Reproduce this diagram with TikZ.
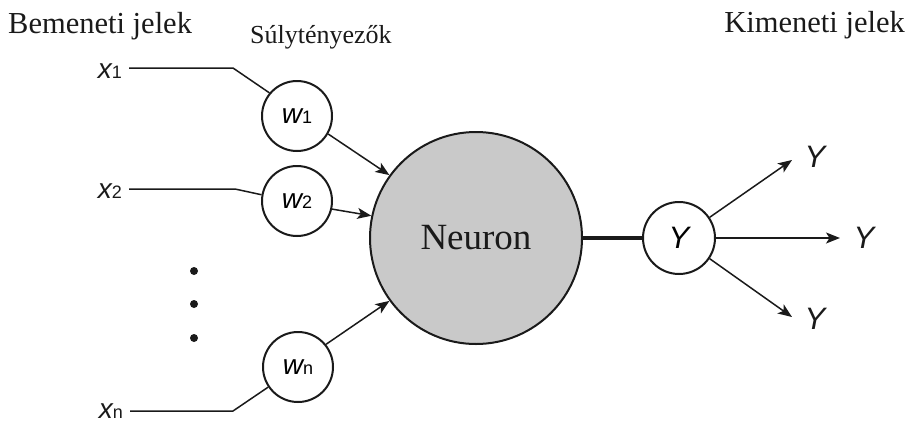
\documentclass[tikz,border=0pt]{standalone}
\usepackage{fontspec}
\setmainfont{Liberation Serif}
\newfontfamily\symfont{Liberation Sans}
\usetikzlibrary{arrows.meta}
\definecolor{ink}{HTML}{1A1A1A}
\definecolor{cellgray}{HTML}{C9C9C9}
% italic sans symbol with an upright subscript
\newcommand{\varsym}[2]{{\symfont\fontsize{28}{28}\selectfont\itshape #1\upshape\fontsize{18}{18}\selectfont #2}}
\newcommand{\outsym}{{\symfont\fontsize{31}{31}\selectfont\itshape Y}}
\begin{document}
\begin{tikzpicture}[x=1pt,y=-1pt,
  heading/.style={inner sep=0pt,font=\fontsize{30.5}{34}\selectfont,text=ink},
  subheading/.style={inner sep=0pt,font=\fontsize{26}{30}\selectfont,text=ink},
  lbl/.style={inner sep=0pt,text=ink},
  weight/.style={circle,draw=ink,line width=2pt,fill=white,minimum size=70pt,inner sep=0pt},
  outcell/.style={circle,draw=ink,line width=2pt,fill=white,minimum size=72pt,inner sep=0pt},
  neuron/.style={circle,draw=ink,line width=2pt,fill=cellgray,minimum size=212pt,inner sep=0pt,
    font=\fontsize{37}{40}\selectfont,text=ink},
  dotmark/.style={circle,fill=ink,minimum size=8pt,inner sep=0pt},
  wire/.style={draw=ink,line width=1.5pt},
  arrow/.style={wire,-{Stealth[length=14pt,width=11pt,inset=3.5pt]}},
  trunk/.style={draw=ink,line width=3.8pt}
]
\useasboundingbox (0,0) rectangle (910,426);

% headings
\node[heading,anchor=base west] (inhead) at (8,33) {Bemeneti jelek};
\node[subheading,anchor=base west] (wthead) at (250,43) {Súlytényezők};
\node[heading,anchor=base east] (outhead) at (905,32) {Kimeneti jelek};

% input labels
\node[lbl,anchor=base east] (x1) at (122,78) {\varsym{x}{1}};
\node[lbl,anchor=base east] (x2) at (122,198) {\varsym{x}{2}};
\node[lbl,anchor=base east] (xn) at (123,418) {\varsym{x}{n}};

% weights, neuron and output cell
\node[weight] (w1) at (297,116) {\varsym{w}{1}};
\node[weight] (w2) at (297,201) {\varsym{w}{2}};
\node[weight] (wn) at (298,367) {\varsym{w}{n}};
\node[neuron] (neu) at (476,238) {Neuron};
\node[outcell] (y) at (679,238) {\outsym};

% ellipsis between the inputs
\node[dotmark] (d1) at (194,271) {};
\node[dotmark] (d2) at (194,304) {};
\node[dotmark] (d3) at (194,338) {};

% input wires with their bends
\coordinate (b1) at (233,68);
\coordinate (b2) at (235,189);
\coordinate (bn) at (233,411);
\draw[wire] ([xshift=7pt]x1.east |- b1) -- (b1) -- (w1.140);
\draw[wire] ([xshift=7pt]x2.east |- b2) -- (b2) -- (w2.170);
\draw[wire] ([xshift=7pt]xn.east |- bn) -- (bn) -- (wn.214);

% weighted signals into the neuron
\draw[arrow] (w1.-30) -- (neu.144);
\draw[arrow] (w2.-13) -- (neu.168);
\draw[arrow] (wn.39) -- (neu.216);

% neuron to output cell
\draw[trunk] (neu.east) -- (y.west);

% outputs
\coordinate (o1) at (792,160);
\coordinate (o2) at (840,238);
\coordinate (o3) at (792,317);
\draw[arrow] (y.34) -- (o1);
\draw[arrow] (y.east) -- (o2);
\draw[arrow] (y.-34) -- (o3);
\node[lbl] (y1) at (815,157) {\outsym};
\node[lbl] (y2) at (864,238) {\outsym};
\node[lbl] (y3) at (815,319) {\outsym};
\end{tikzpicture}
\end{document}
